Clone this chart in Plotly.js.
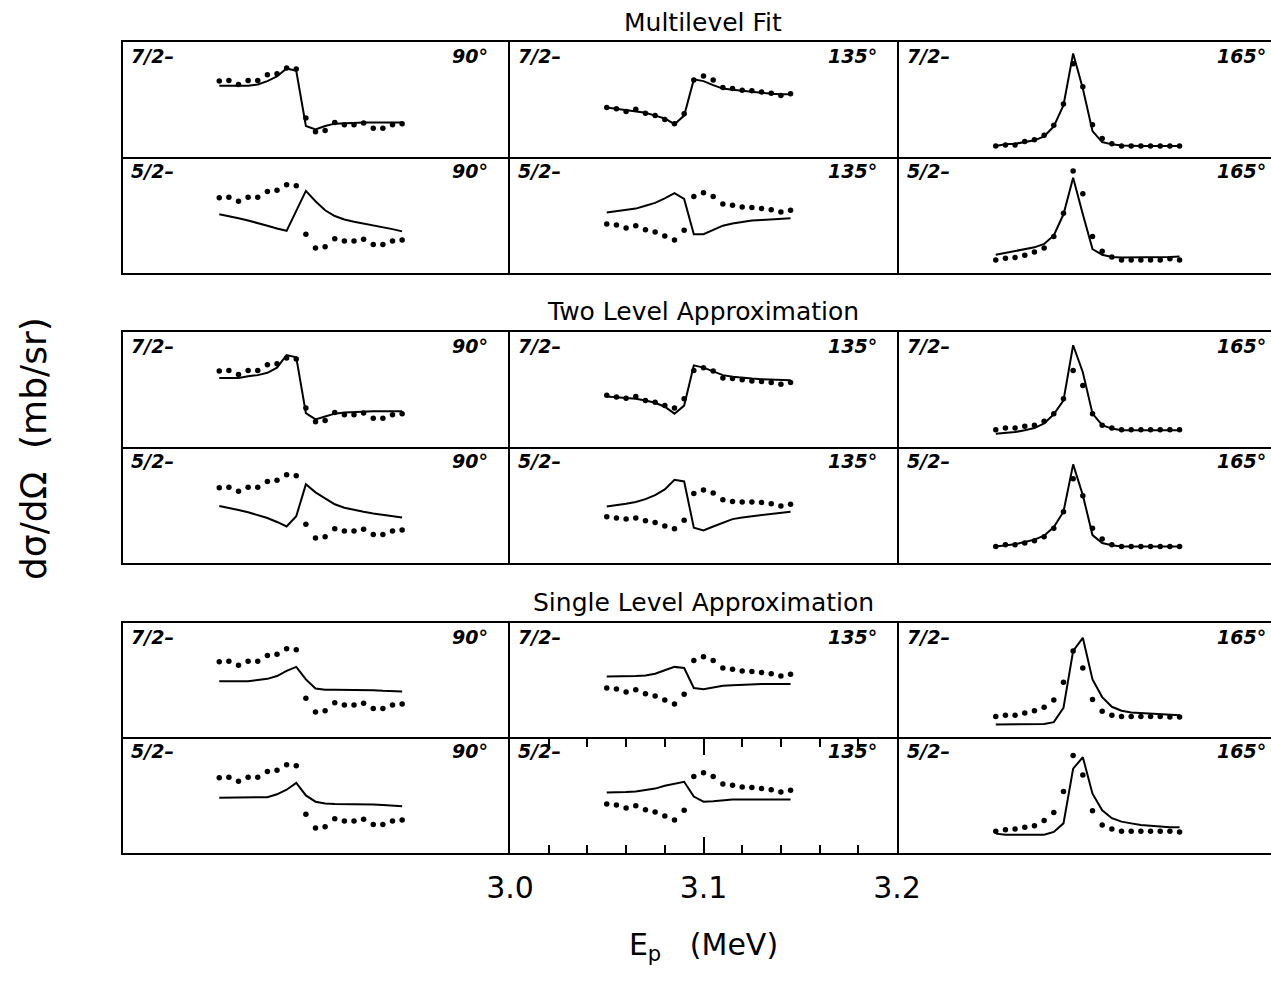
<!DOCTYPE html>
<html>
<head>
<meta charset="utf-8">
<script src="https://cdn.plot.ly/plotly-3.0.1.min.js"></script>
<style>
html, body { margin: 0; padding: 0; overflow: hidden; background: #fff; }
#chart { width: 1290px; height: 990px; }
</style>
</head>
<body>
<div id="chart"></div>
<script>
// Proton energies of the excitation-function points (MeV)
const energy = [3.050, 3.055, 3.060, 3.065, 3.070, 3.075, 3.080, 3.085, 3.090, 3.095,
                3.100, 3.105, 3.110, 3.115, 3.120, 3.125, 3.130, 3.135, 3.140, 3.145];

// Measured cross sections (relative units, 0-100 across each panel)
const exp90 = [66, 66.5, 63, 66.5, 66.5, 71.5, 72.5, 77.5, 76.5, 34, 22, 23, 30, 28, 28, 29.5, 25, 25, 28, 29];
const exp135 = [43, 42, 39.5, 41.5, 38, 36, 32.5, 29, 37.5, 67, 70.5, 67, 60.5, 59.5, 58, 57.5, 56.5, 55.5, 53.5, 55];
const exp135_tl72 = [45, 43.5, 42.5, 44, 40.5, 39, 36, 34, 42, 66.5, 69, 66, 60, 59.5, 58.5, 57.5, 57, 56, 54.5, 56];
const exp135_tl52 = [40.5, 39.5, 38.5, 39.5, 37, 35.5, 32.5, 30, 37.5, 61, 64, 61.5, 55.5, 54, 53.5, 53.5, 53, 52, 50, 51.5];
const exp165_ml72 = [9.5, 10.5, 10.5, 13.5, 15, 19, 27.5, 46, 81, 61, 28, 16, 11.5, 9.5, 9.5, 9.5, 9.5, 9.5, 9.5, 9.5];
const exp165_ml52 = [11.5, 13, 13.5, 15.5, 18.5, 22, 32, 52.5, 89.5, 69.5, 32, 19, 14, 11.5, 11.5, 11.5, 11.5, 11.5, 12.5, 11.5];
const exp165_tl72 = [15, 16.5, 16.5, 18, 19, 22.5, 29, 42, 66.5, 53.5, 29, 19, 16.5, 15, 15, 15, 15, 15, 15, 15];
const exp165_tl52 = [14.5, 16, 16, 17.5, 19.5, 23, 30.5, 45, 74, 59, 30.5, 21, 16, 14.5, 14.5, 14.5, 14.5, 14.5, 14.5, 14.5];
const exp165_sl72 = [18, 19, 19, 21, 23, 26, 32.5, 48, 75.5, 60.5, 33, 22.5, 19, 18, 18, 18, 18, 18, 17.5, 17.5];
const exp165_sl52 = [19, 20.5, 21, 22.5, 24, 28.5, 35.5, 54, 85.5, 68.5, 37, 24.5, 21, 19, 19, 19, 19, 19, 19, 18.5];

// Calculated curves: multilevel fit
const ml_72_90  = [62, 62, 62, 62, 63, 66, 70, 77, 75, 27, 24, 27, 29, 29.5, 30, 30, 30, 30, 30, 30];
const ml_52_90  = [51.5, 50, 48, 46, 44, 41.5, 39, 37, 54.5, 72, 63, 55, 50, 47, 45, 43.5, 41.5, 40, 38.5, 36.5];
const ml_72_135 = [43, 42, 41, 39.5, 38.5, 36, 33.5, 28.5, 36, 67.5, 66, 62.5, 59.5, 58.5, 57.5, 56.5, 55.5, 55, 54.5, 54.5];
const ml_52_135 = [53, 54, 55, 56.5, 59, 61.5, 65.5, 70, 65, 34, 34, 37.5, 41.5, 43.5, 45, 46, 46.5, 47, 48, 48];
const ml_72_165 = [9.5, 11, 11.5, 13, 14.5, 18, 26.5, 45, 90, 59.5, 22.5, 13, 11, 10, 9.5, 9.5, 9.5, 9.5, 9.5, 9.5];
const ml_52_165 = [16, 17.5, 19, 20.5, 22.5, 25.5, 33, 51.5, 83.5, 51.5, 21, 16, 14, 13.5, 13.5, 13.5, 13.5, 13.5, 14, 14.5];

// Two level approximation
const tl_72_90  = [60, 60, 60, 61.5, 62.5, 64.5, 69, 80, 78, 29.5, 24, 26.5, 29, 30, 30.5, 31, 31, 31, 31, 31];
const tl_52_90  = [50, 48.5, 46.5, 44.5, 42, 39.5, 36, 32, 41, 69, 62, 56.5, 51.5, 48.5, 46.5, 45, 43.5, 42.5, 41, 40];
const tl_72_135 = [44, 43.5, 43, 42, 40.5, 38.5, 35, 29, 36, 71, 69, 66, 62.5, 61, 60, 59.5, 59, 58.5, 58, 58];
const tl_52_135 = [49.5, 50.5, 52, 53.5, 56, 59.5, 64.5, 73, 71.5, 31, 28.5, 32, 35.5, 38.5, 40, 41, 42, 43, 44, 45];
const tl_72_165 = [11.5, 12, 13, 14.5, 16.5, 20.5, 28.5, 40.5, 88.5, 65, 29, 19, 16, 14.5, 14.5, 14.5, 14.5, 14.5, 14.5, 14.5];
const tl_52_165 = [14.5, 15.5, 16.5, 18.5, 20.5, 24, 31.5, 45, 86.5, 59.5, 24.5, 17.5, 15.5, 14.5, 14.5, 14.5, 14.5, 14.5, 14.5, 14.5];

// Single level approximation
const sl_72_90  = [49, 49, 49, 49, 50, 51, 53.5, 58, 61.5, 50.5, 42.5, 41.5, 41.5, 41.5, 41.5, 41, 41, 40.5, 40.5, 40];
const sl_52_90  = [48.5, 48.5, 48.5, 48.5, 48.5, 49, 51.5, 55.5, 61.5, 50.5, 45, 43.5, 43, 43, 43, 42.5, 42.5, 42, 41.5, 41];
const sl_72_135 = [53, 53, 53, 53.5, 54, 55.5, 58.5, 61.5, 60.5, 43, 42, 43.5, 45, 45.5, 46, 46, 46.5, 46.5, 46.5, 46.5];
const sl_52_135 = [53, 53, 53.5, 54, 55, 56.5, 59, 61, 62.5, 49.5, 45, 45.5, 46.5, 47, 47, 47, 47, 47, 47, 47];
const sl_72_165 = [11, 11, 11, 11, 11, 11.5, 13, 25.5, 75.5, 87, 50.5, 35, 26.5, 23, 21.5, 21, 20.5, 19.5, 19, 19];
const sl_52_165 = [17, 16, 16, 16, 16, 16, 18.5, 26, 74, 84, 52, 37.5, 30.5, 27.5, 26, 24.5, 24, 23, 22.5, 22.5];

// Labels
const groupTitles = ['Multilevel Fit', 'Two Level Approximation', 'Single Level Approximation'];
const spinLabels = ['7/2–', '5/2–'];
const angleLabels = ['90°', '135°', '165°'];
const tickLabels = ['3.0', '3.1', '3.2'];

// Panel table: row (0-5), column (0-2), measured points, calculated curve
const panels = [
  {row: 0, col: 0, pts: exp90,        fit: ml_72_90},
  {row: 0, col: 1, pts: exp135,       fit: ml_72_135},
  {row: 0, col: 2, pts: exp165_ml72,  fit: ml_72_165},
  {row: 1, col: 0, pts: exp90,        fit: ml_52_90},
  {row: 1, col: 1, pts: exp135,       fit: ml_52_135},
  {row: 1, col: 2, pts: exp165_ml52,  fit: ml_52_165},
  {row: 2, col: 0, pts: exp90,        fit: tl_72_90},
  {row: 2, col: 1, pts: exp135_tl72,  fit: tl_72_135},
  {row: 2, col: 2, pts: exp165_tl72,  fit: tl_72_165},
  {row: 3, col: 0, pts: exp90,        fit: tl_52_90},
  {row: 3, col: 1, pts: exp135_tl52,  fit: tl_52_135},
  {row: 3, col: 2, pts: exp165_tl52,  fit: tl_52_165},
  {row: 4, col: 0, pts: exp90,        fit: sl_72_90},
  {row: 4, col: 1, pts: exp135,       fit: sl_72_135},
  {row: 4, col: 2, pts: exp165_sl72,  fit: sl_72_165},
  {row: 5, col: 0, pts: exp90,        fit: sl_52_90},
  {row: 5, col: 1, pts: exp135,       fit: sl_52_135},
  {row: 5, col: 2, pts: exp165_sl52,  fit: sl_52_165}
];

// Page geometry (pixels); frame lines are drawn just outside each plot area,
// so neighbouring panels are inset by one line width to share a single border.
const W = 1290, H = 990, LW = 2;
const colPx = [[123, 508], [508 + LW, 897], [897 + LW, 1286]];
const rowPx = [[42, 157], [157 + LW, 273], [332, 447], [447 + LW, 563], [623, 737], [737 + LW, 853]];
const titleY = [22, 311, 602];
const FONT = 'DejaVu Sans';

const traces = [];
const layout = {
  width: W, height: H,
  margin: {l: 0, r: 0, t: 0, b: 0},
  paper_bgcolor: '#fff', plot_bgcolor: '#fff',
  showlegend: false,
  font: {family: FONT, color: '#000'},
  annotations: []
};

panels.forEach((p, i) => {
  const n = i + 1;
  const s = n === 1 ? '' : String(n);
  const xa = 'x' + s, ya = 'y' + s;
  traces.push({x: energy, y: p.fit, xaxis: xa, yaxis: ya, type: 'scatter', mode: 'lines',
               line: {color: '#000', width: 2}, hoverinfo: 'skip'});
  traces.push({x: energy, y: p.pts, xaxis: xa, yaxis: ya, type: 'scatter', mode: 'markers',
               marker: {color: '#000', size: 5.5}, hoverinfo: 'skip'});

  const base = {showgrid: false, zeroline: false, showline: true, mirror: true,
                linecolor: '#000', linewidth: LW, ticks: '', showticklabels: false, fixedrange: true};
  const xDef = Object.assign({}, base, {
    domain: [colPx[p.col][0] / W, colPx[p.col][1] / W], range: [3.0, 3.2], anchor: ya
  });
  if (p.row === 5 && p.col === 1) {
    Object.assign(xDef, {
      mirror: 'ticks', ticks: 'inside', ticklen: 16, tickwidth: 2, tickcolor: '#000',
      tickmode: 'array', tickvals: [3.0, 3.1, 3.2], ticktext: tickLabels,
      showticklabels: true, tickfont: {family: FONT, size: 30}, ticklabelstandoff: 7,
      minor: {tickmode: 'linear', tick0: 3.0, dtick: 0.02, ticks: 'inside', ticklen: 8,
              tickwidth: 2, tickcolor: '#000'},
      title: {text: 'E<sub>p</sub>   (MeV)', font: {family: FONT, size: 30}, standoff: 30}
    });
  }
  layout['xaxis' + s] = xDef;
  layout['yaxis' + s] = Object.assign({}, base, {
    domain: [1 - rowPx[p.row][1] / H, 1 - rowPx[p.row][0] / H], range: [0, 100], anchor: xa
  });

  // spin/parity label (top-left) and angle label (top-right)
  const top = p.row % 2 === 0 ? rowPx[p.row][0] : rowPx[p.row][0] - LW;
  layout.annotations.push({
    xref: 'paper', yref: 'paper', x: (colPx[p.col][0] + 6) / W, y: 1 - (top + 1) / H,
    xanchor: 'left', yanchor: 'top', showarrow: false,
    text: '<b><i>' + spinLabels[p.row % 2] + '</i></b>', font: {family: FONT, size: 19}
  });
  layout.annotations.push({
    xref: 'paper', yref: 'paper', x: (colPx[p.col][1] - 18) / W, y: 1 - (top + 1) / H,
    xanchor: 'right', yanchor: 'top', showarrow: false,
    text: '<b><i>' + angleLabels[p.col] + '</i></b>', font: {family: FONT, size: 19}
  });
});

// group headings
groupTitles.forEach((t, g) => {
  layout.annotations.push({
    xref: 'paper', yref: 'paper', x: 703 / W, y: 1 - titleY[g] / H,
    xanchor: 'center', yanchor: 'middle', showarrow: false,
    text: t, font: {family: FONT, size: 25}
  });
});

// common ordinate label
layout.annotations.push({
  xref: 'paper', yref: 'paper', x: 34 / W, y: 1 - 449 / H,
  xanchor: 'center', yanchor: 'middle', showarrow: false, textangle: -90,
  text: 'dσ/dΩ  (mb/sr)', font: {family: FONT, size: 36}
});

Plotly.newPlot('chart', traces, layout, {staticPlot: true, displayModeBar: false});
</script>
</body>
</html>
